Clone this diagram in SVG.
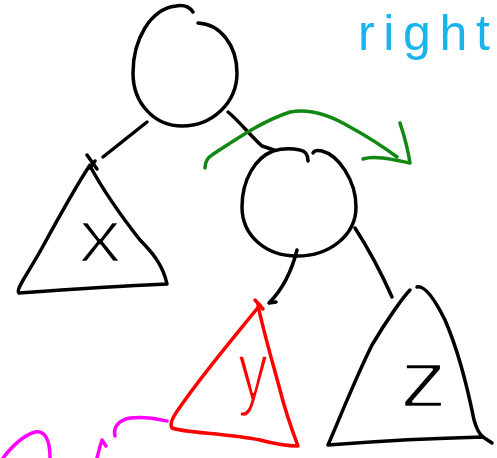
<svg xmlns="http://www.w3.org/2000/svg" width="497" height="458" viewBox="0 0 497 458">
<style>
.k{fill:none;stroke:#000;stroke-width:3.5;stroke-linecap:round;stroke-linejoin:round}
.r{fill:none;stroke:#ff0000;stroke-width:3.5;stroke-linecap:round;stroke-linejoin:round}
.g{fill:none;stroke:#118811;stroke-width:3.5;stroke-linecap:round;stroke-linejoin:round}
.m{fill:none;stroke:#ff00ff;stroke-width:3.5;stroke-linecap:round;stroke-linejoin:round}
.lbl{font-family:"Liberation Sans",Arial,sans-serif;}
.thin{stroke:#fff;stroke-width:2.5;stroke-linejoin:round}
</style>
<rect width="497" height="458" fill="#fff"/>
<g id="connectors">
  <path class="k" d="M147,122 L103,157"/>
  <path class="k" d="M87,155 L97,169 M95,161 L90,168"/>
  <path class="k" d="M228,112 C238,120 250,135 262,146 L274,150"/>
  <path class="k" d="M297,250 C292,270 282,290 269,303 L276,302"/>
  <path class="k" d="M355,228 C366,245 380,270 392,297"/>
  <path class="g" d="M205,168 C205,162 207,158 212,155 C235,140 260,122 290,112 C310,108 330,115 350,127 C370,138 385,148 397,157"/>
  <path class="g" d="M363,159 C375,155 395,160 410,163 C408,150 404,135 400,123"/>
  <path class="m" d="M3,458 C13,445 25,435 35,432 C45,430 50,440 50,458"/>
  <path class="m" d="M97,458 C99,450 101,443 102,440 L106,446"/>
  <path class="m" d="M115,436 C113,428 118,420 130,418 C145,416 158,419 167,421"/>
</g>
<g id="root">
  <path class="k" d="M193,12 C189,6 182,5 176,6 C150,9 133,40 133,73 C133,104 155,126 182,126 C212,126 237,103 237,73 C237,45 220,24 198,23"/>
</g>
<g id="child">
  <path class="k" d="M308,161 C308,155 306,151 300,150 C290,148 280,149 273,151 C255,158 242,180 242,207 C242,235 265,256 297,256 C330,256 356,235 356,207 C356,180 338,155 322,151 C317,150 314,151 313,153"/>
</g>
<g id="tri-x">
  <text class="lbl thin" x="78" y="262" font-size="76" textLength="44" lengthAdjust="spacingAndGlyphs" fill="#000">x</text>
  <path class="k" d="M90,165 C80,180 60,215 42,248 C27,275 15,290 19,293 C60,290 120,286 167,284 C163,265 152,252 140,240 C118,212 102,188 90,166"/>
</g>
<g id="tri-y">
  <path class="r" d="M255,300 L263,309"/>
  <text class="lbl thin" x="238" y="400" font-size="84" textLength="30" lengthAdjust="spacingAndGlyphs" fill="#ff0000">y</text>
  <path class="r" d="M260,305 C240,330 210,365 185,400 C178,410 168,422 172,428 C185,433 225,433 260,440 C275,444 290,446 298,446 C292,430 285,410 280,390 C272,360 263,330 258,305"/>
</g>
<g id="tri-z">
  <text class="lbl thin" x="400" y="407" font-size="82" textLength="47" lengthAdjust="spacingAndGlyphs" fill="#000">z</text>
  <path class="k" d="M410,290 C404,296 388,318 372,345 C356,377 341,415 328,445 C380,441 440,438 483,437 L492,443"/>
  <path class="k" d="M417,287 C425,285 435,300 445,320 C458,350 468,390 474,420 C477,430 480,435 483,437"/>
</g>
<g id="label-right">
  <text class="lbl" x="358" y="50" font-size="50" textLength="132" lengthAdjust="spacing" fill="#19b4ee">right</text>
</g>
</svg>
